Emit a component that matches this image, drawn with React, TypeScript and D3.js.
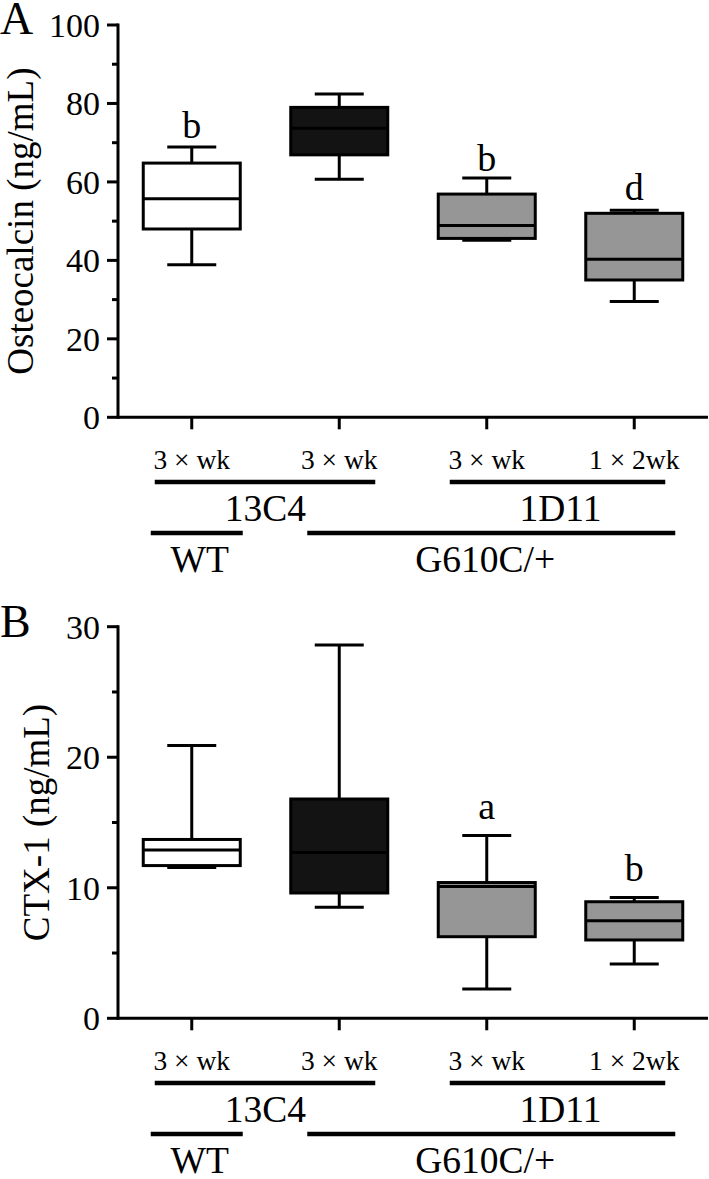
import React from "react";
import * as d3 from "d3";

// ---------- data ----------
const categories = ["WT-13C4-3xwk", "G610C-13C4-3xwk", "G610C-1D11-3xwk", "G610C-1D11-1x2wk"];
const catLabels = ["3 × wk", "3 × wk", "3 × wk", "1 × 2wk"];
const boxFills = ["#ffffff", "#131313", "#969696", "#969696"];

// Panel A: Osteocalcin (ng/mL)
const oscMin = [38.9, 60.7, 45.1, 29.5];
const oscQ1 = [48.0, 66.9, 45.6, 35.0];
const oscMed = [55.7, 73.7, 48.9, 40.3];
const oscQ3 = [64.8, 79.0, 56.9, 52.0];
const oscMax = [68.9, 82.4, 61.0, 52.8];
const oscLetters = ["b", "", "b", "d"];
const oscLetterY = [71.3, 0, 62.8, 55.3];
const oscMajorTicks = [0, 20, 40, 60, 80, 100];
const oscMinorTicks = [10, 30, 50, 70, 90];

// Panel B: CTX-1 (ng/mL)
const ctxMin = [11.56, 8.5, 2.25, 4.16];
const ctxQ1 = [11.7, 9.6, 6.25, 6.0];
const ctxMed = [12.9, 12.7, 10.1, 7.47];
const ctxQ3 = [13.7, 16.8, 10.4, 8.93];
const ctxMax = [20.9, 28.6, 14.0, 9.26];
const ctxLetters = ["", "", "a", "b"];
const ctxLetterY = [0, 0, 15.3, 10.5];
const ctxMajorTicks = [0, 10, 20, 30];
const ctxMinorTicks = [5, 15, 25];

// grouping annotations (category index spans)
const antibodyGroups = [
  { label: "13C4", from: 0, to: 1 },
  { label: "1D11", from: 2, to: 3 },
];
const genotypeGroups = [
  { label: "WT", from: 0, to: 0 },
  { label: "G610C/+", from: 1, to: 3 },
];

const FONT = "'Liberation Serif', 'Times New Roman', Times, serif";

const x = d3.scalePoint<string>().domain(categories).range([118, 708]).padding(0.5);

type PanelProps = {
  letter: string;
  title: string;
  y: d3.ScaleLinear<number, number>;
  mins: number[];
  q1s: number[];
  meds: number[];
  q3s: number[];
  maxs: number[];
  letters: string[];
  letterY: number[];
  major: number[];
  minor: number[];
  titleX: number;
  letterBaseline: number;
  letterX: number;
};

function Panel(p: PanelProps) {
  const { y } = p;
  const [y0, y1] = y.range();
  const axisX = 118;
  const boxW = 97;
  const capW = 49;
  const axisY = y0;
  const xs = categories.map((c) => x(c) as number);
  return (
    <g>
      <text x={p.letterX} y={p.letterBaseline} fontSize={46} fontFamily={FONT}>
        {p.letter}
      </text>
      <text
        transform={`translate(${p.titleX},${(y0 + y1) / 2}) rotate(-90)`}
        textAnchor="middle"
        dominantBaseline="central"
        fontSize={37}
        fontFamily={FONT}
      >
        {p.title}
      </text>
      {/* y axis */}
      <line x1={axisX} x2={axisX} y1={y1 - 1.5} y2={y0 + 1.5} stroke="#000" strokeWidth={3} />
      {p.major.map((v) => (
        <g key={"M" + v}>
          <line x1={axisX - 11} x2={axisX} y1={y(v)} y2={y(v)} stroke="#000" strokeWidth={3} />
          <text
            x={100}
            y={y(v)}
            dy="0.35em"
            textAnchor="end"
            fontSize={34}
            fontFamily={FONT}
          >
            {v}
          </text>
        </g>
      ))}
      {p.minor.map((v) => (
        <line key={"m" + v} x1={axisX - 6} x2={axisX} y1={y(v)} y2={y(v)} stroke="#000" strokeWidth={3} />
      ))}
      {/* x axis */}
      <line x1={axisX} x2={708} y1={axisY} y2={axisY} stroke="#000" strokeWidth={3} />
      {xs.map((cx, i) => (
        <line key={"xt" + i} x1={cx} x2={cx} y1={axisY} y2={axisY + 12} stroke="#000" strokeWidth={3} />
      ))}
      {/* boxes */}
      {xs.map((cx, i) => (
        <g key={"b" + i}>
          <line x1={cx} x2={cx} y1={y(p.maxs[i])} y2={y(p.q3s[i])} stroke="#000" strokeWidth={3} />
          <line x1={cx} x2={cx} y1={y(p.q1s[i])} y2={y(p.mins[i])} stroke="#000" strokeWidth={3} />
          <line x1={cx - capW / 2} x2={cx + capW / 2} y1={y(p.maxs[i])} y2={y(p.maxs[i])} stroke="#000" strokeWidth={3} />
          <line x1={cx - capW / 2} x2={cx + capW / 2} y1={y(p.mins[i])} y2={y(p.mins[i])} stroke="#000" strokeWidth={3} />
          <rect
            x={cx - boxW / 2}
            y={y(p.q3s[i])}
            width={boxW}
            height={y(p.q1s[i]) - y(p.q3s[i])}
            fill={boxFills[i]}
            stroke="#000"
            strokeWidth={3}
          />
          <line x1={cx - boxW / 2} x2={cx + boxW / 2} y1={y(p.meds[i])} y2={y(p.meds[i])} stroke="#000" strokeWidth={3} />
          {p.letters[i] && (
            <text x={cx} y={y(p.letterY[i])} textAnchor="middle" fontSize={38} fontFamily={FONT}>
              {p.letters[i]}
            </text>
          )}
        </g>
      ))}
      {/* category labels */}
      {xs.map((cx, i) => (
        <text key={"cl" + i} x={cx} y={axisY + 51.7} textAnchor="middle" fontSize={27.5} fontFamily={FONT}>
          {catLabels[i]}
        </text>
      ))}
      {/* antibody groups */}
      {antibodyGroups.map((g, i) => {
        const a = xs[g.from];
        const b = xs[g.to];
        const left = a - 37;
        const right = b + (i === 0 ? 36 : 31);
        return (
          <g key={"ab" + i}>
            <line x1={left} x2={right} y1={axisY + 64.7} y2={axisY + 64.7} stroke="#000" strokeWidth={4.5} />
            <text x={(a + b) / 2} y={axisY + 103.7} textAnchor="middle" fontSize={37.5} fontFamily={FONT}>
              {g.label}
            </text>
          </g>
        );
      })}
      {/* genotype groups */}
      {genotypeGroups.map((g, i) => {
        const a = xs[g.from];
        const b = xs[g.to];
        const left = i === 0 ? a - 41 : a - 32;
        const right = i === 0 ? b + 51 : b + 41;
        const cx = i === 0 ? a + 8 : (left + right) / 2 - 6;
        return (
          <g key={"gt" + i}>
            <line x1={left} x2={right} y1={axisY + 115.7} y2={axisY + 115.7} stroke="#000" strokeWidth={4.5} />
            <text x={cx} y={axisY + 154.5} textAnchor="middle" fontSize={37.5} fontFamily={FONT}>
              {g.label}
            </text>
          </g>
        );
      })}
    </g>
  );
}

export default function App() {
  const yA = d3.scaleLinear().domain([0, 100]).range([417.3, 25]);
  const yB = d3.scaleLinear().domain([0, 30]).range([1018.3, 626.7]);
  return (
    <svg
      width={709}
      height={1179}
      viewBox="0 0 709 1179"
      style={{ position: "absolute", left: 0, top: 0, display: "block", background: "#fff" }}
    >
      <rect x={0} y={0} width={709} height={1179} fill="#fff" />
      <Panel
        letter="A"
        title="Osteocalcin (ng/mL)"
        y={yA}
        mins={oscMin}
        q1s={oscQ1}
        meds={oscMed}
        q3s={oscQ3}
        maxs={oscMax}
        letters={oscLetters}
        letterY={oscLetterY}
        major={oscMajorTicks}
        minor={oscMinorTicks}
        titleX={20}
        letterBaseline={34}
        letterX={0}
      />
      <Panel
        letter="B"
        title="CTX-1 (ng/mL)"
        y={yB}
        mins={ctxMin}
        q1s={ctxQ1}
        meds={ctxMed}
        q3s={ctxQ3}
        maxs={ctxMax}
        letters={ctxLetters}
        letterY={ctxLetterY}
        major={ctxMajorTicks}
        minor={ctxMinorTicks}
        titleX={36}
        letterBaseline={637}
        letterX={0}
      />
    </svg>
  );
}
